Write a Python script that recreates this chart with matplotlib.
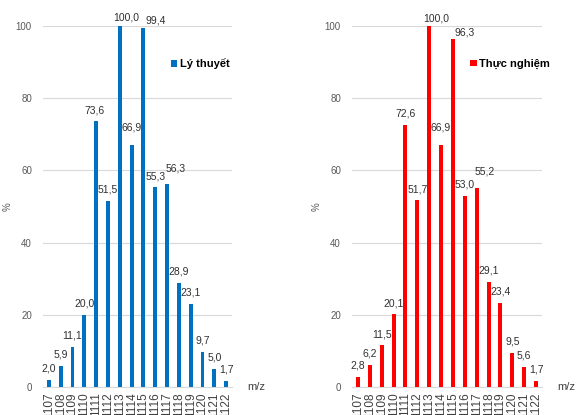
import matplotlib
matplotlib.use("Agg")
import numpy as np
import matplotlib.pyplot as plt

plt.rcParams['font.family'] = ['Liberation Sans', 'DejaVu Sans']

# m/z peaks of the isotope cluster
mz = [str(m) for m in range(1107, 1123)]
ly_thuyet = [2.0, 5.9, 11.1, 20.0, 73.6, 51.5, 100.0, 66.9, 99.4, 55.3, 56.3, 28.9, 23.1, 9.7, 5.0, 1.7]
thuc_nghiem = [2.8, 6.2, 11.5, 20.1, 72.6, 51.7, 100.0, 66.9, 96.3, 53.0, 55.2, 29.1, 23.4, 9.5, 5.6, 1.7]

# small offsets (points) for labels that would collide
nudge_left = {4: (-1.5, 0), 6: (4.5, -2), 7: (0, 5), 8: (9, -2.5), 10: (6.5, 3)}
nudge_right = {6: (5, -2.5), 7: (0, 5), 8: (8.5, -3), 10: (6, 3.5)}

fig = plt.figure(figsize=(5.77, 4.15), dpi=100)
ax1 = fig.add_axes([43 / 577, 28 / 415, 189 / 577, 361 / 415])
ax2 = fig.add_axes([352 / 577, 28 / 415, 190 / 577, 361 / 415])


def draw(ax, vals, color, name, nudge, leg_x):
    x = np.arange(len(vals))
    bars = ax.bar(x, vals, width=0.33, color=color, label=name, zorder=3)
    for i, v in enumerate(vals):
        dx, dy = nudge.get(i, (0, 0))
        ax.annotate(f"{v:.1f}".replace('.', ','), (x[i], v),
                    xytext=(dx, 8 + dy), textcoords='offset points',
                    ha='center', va='center', fontsize=7.5, color='#303030',
                    annotation_clip=False)
    ax.set_xlim(-0.5, len(vals) - 0.5)
    ax.set_ylim(0, 100)
    ax.set_yticks(range(0, 101, 20))
    ax.grid(axis='y', color='#d9d9d9', linewidth=0.8, zorder=0)
    for s in ['top', 'right', 'left']:
        ax.spines[s].set_visible(False)
    ax.spines['bottom'].set_color('#d9d9d9')
    ax.tick_params(axis='y', length=0, pad=8, labelsize=7, labelcolor='#595959')
    ax.set_xticks(x)
    ax.set_xticklabels(mz, rotation=90, fontsize=8.5, color='#404040')
    ax.tick_params(axis='x', length=0, pad=4)
    ax.set_ylabel('%', fontsize=7, color='#595959')
    ax.yaxis.set_label_coords(-0.16, 0.5)
    ax.text(1.13, 0, 'm/z', transform=ax.transAxes, ha='center', va='center',
            fontsize=8, color='#404040')
    ax.legend(handles=[bars], loc='center left', bbox_to_anchor=(leg_x, 0.895),
              frameon=False, handlelength=0.55, handleheight=0.55,
              handletextpad=0.2, borderaxespad=0,
              prop={'weight': 'bold', 'size': 8})


draw(ax1, ly_thuyet, '#0070c0', 'Lý thuyết', nudge_left, 0.655)
draw(ax2, thuc_nghiem, '#ff0000', 'Thực nghiệm', nudge_right, 0.60)

fig.savefig('out.png', dpi=100)
